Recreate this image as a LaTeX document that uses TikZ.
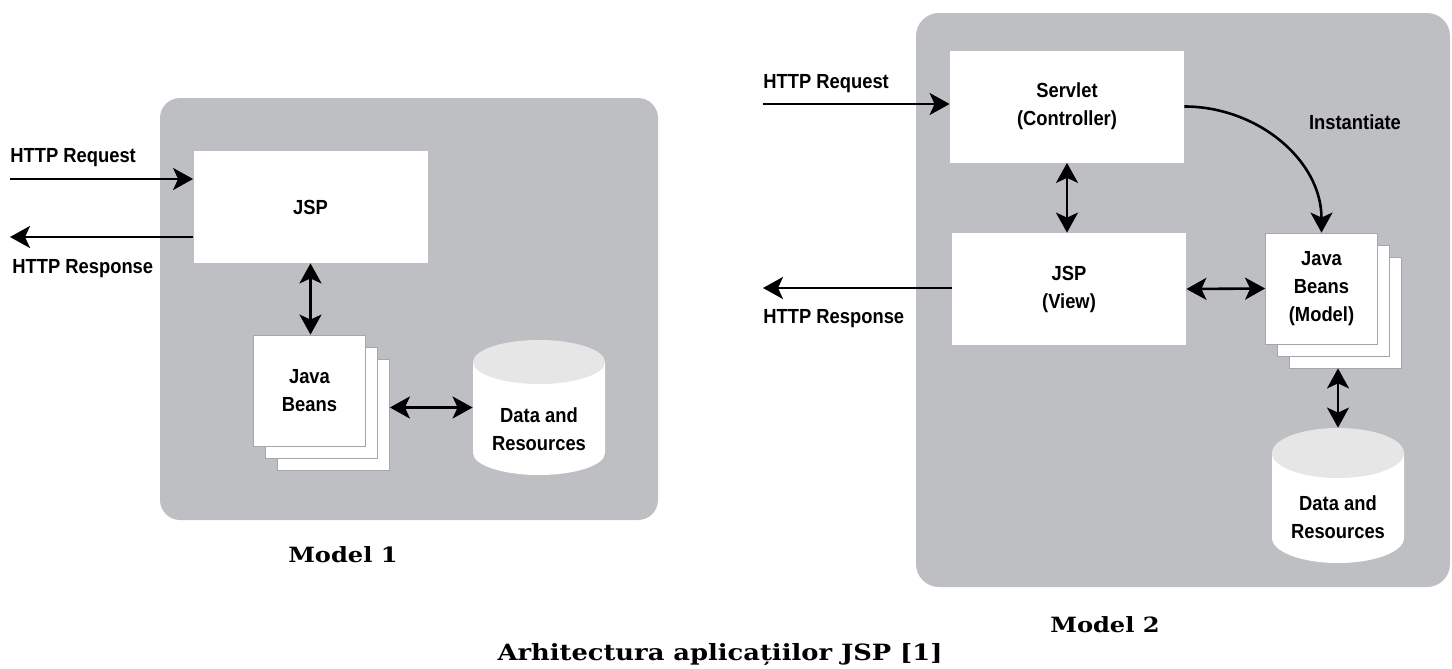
\documentclass[tikz,border=0pt]{standalone}
\usepackage{fontspec}
\setmainfont{Liberation Sans}
\newfontfamily\lblfont[FakeStretch=0.9]{Liberation Sans}
\newfontfamily\capfont[FakeStretch=1.15]{DejaVu Serif}
\usetikzlibrary{arrows.meta}
\definecolor{panel}{RGB}{190,191,195}
\definecolor{dbtop}{RGB}{230,230,231}
\definecolor{pageline}{RGB}{165,166,170}

\begin{document}
\begin{tikzpicture}[x=0.5pt,y=-0.5pt,
    every node/.style={font=\lblfont\bfseries\fontsize{10.2}{14}\selectfont,align=center,inner sep=0pt},
    box/.style={fill=white,minimum width=117pt,minimum height=56pt},
    page/.style={fill=white,draw=pageline,line width=0.4pt,minimum width=56pt,minimum height=55.5pt},
    dbnode/.style={minimum width=66pt,minimum height=67.5pt},
    arr/.style={line width=1.3pt,-{Stealth[length=10pt,width=11pt,inset=2.5pt]}},
    darr/.style={line width=1.3pt,{Stealth[length=10pt,width=11pt,inset=2.5pt]}-{Stealth[length=10pt,width=11pt,inset=2.5pt]}},
    caption/.style={font=\capfont\bfseries\fontsize{10.5}{12}\selectfont},
    title/.style={font=\capfont\bfseries\fontsize{11.2}{13}\selectfont}]
    \useasboundingbox (0,0) rectangle (1452,669);

    \fill[panel,rounded corners=10pt] (160,98) rectangle (658,520);
    \fill[panel,rounded corners=11.5pt] (916,13) rectangle (1450,587);

    \fill[white] (473,362) -- (473,453) arc[start angle=180,end angle=360,x radius=33pt,y radius=11pt] -- (605,362) -- cycle;
    \fill[dbtop] (539,362) ellipse[x radius=33pt,y radius=11pt];
    \fill[white] (1272,453) -- (1272,538) arc[start angle=180,end angle=360,x radius=33pt,y radius=12.5pt] -- (1404,453) -- cycle;
    \fill[dbtop] (1338,453) ellipse[x radius=33pt,y radius=12.5pt];

    \node[box] (jsp1) at (310.5,207) {JSP};
    \node[page] (bp1c) at (333.5,414.5) {};
    \node[page] (bp1b) at (321.5,402.5) {};
    \node[page] (beans1) at (309.5,390.5) {Java\\Beans};
    \node[dbnode] (db1) at (539,407.5) {};
    \node (dbtxt1) at ([yshift=-11pt]db1.center) {Data and\\Resources};
    \coordinate (in1) at (10,179);
    \coordinate (out1) at (10,237);
    \node[anchor=west] (req1) at (10,158) {HTTP Request};
    \node[anchor=west] (resp1) at (12,269) {HTTP Response};
    \draw[arr] (in1) -- (in1 -| jsp1.west);
    \draw[arr] (out1 -| jsp1.west) -- (out1);
    \draw[darr] (jsp1.south) -- (jsp1.south |- beans1.north);
    \draw[darr] (bp1c.east |- db1.west) -- (db1.west);
    \node[caption] (m1) at (343,555) {Model 1};

    \node[box] (servlet) at (1067,106.5) {Servlet\\(Controller)};
    \node[box] (jsp2) at (1069,289) {JSP\\(View)};
    \node[page] (bp2c) at (1345.5,312.5) {};
    \node[page] (bp2b) at (1333.5,300.5) {};
    \node[page] (beans2) at (1321.5,288.5) {Java\\Beans\\(Model)};
    \node[dbnode] (db2) at (1338,495.5) {};
    \node (dbtxt2) at ([yshift=-11pt]db2.center) {Data and\\Resources};
    \coordinate (in2) at (763,104);
    \coordinate (out2) at (763,288);
    \node[anchor=west] (req2) at (763,84) {HTTP Request};
    \node[anchor=west] (resp2) at (763,319) {HTTP Response};
    \node (inst) at (1355,122) {Instantiate};
    \draw[arr] (in2) -- (in2 -| servlet.west);
    \draw[arr] (out2 -| jsp2.west) -- (out2);
    \draw[darr] (servlet.south) -- (servlet.south |- jsp2.north);
    \draw[darr] (jsp2.east) -- (beans2.west);
    \draw[arr] (servlet.east) to[out=0,in=90] (beans2.north);
    \draw[darr] (db2.north |- bp2c.south) -- (db2.north);
    \node[caption] (m2) at (1105,625) {Model 2};

    \node[title] (cap) at (720,655) {Arhitectura aplicațiilor JSP [1]};
\end{tikzpicture}
\end{document}
